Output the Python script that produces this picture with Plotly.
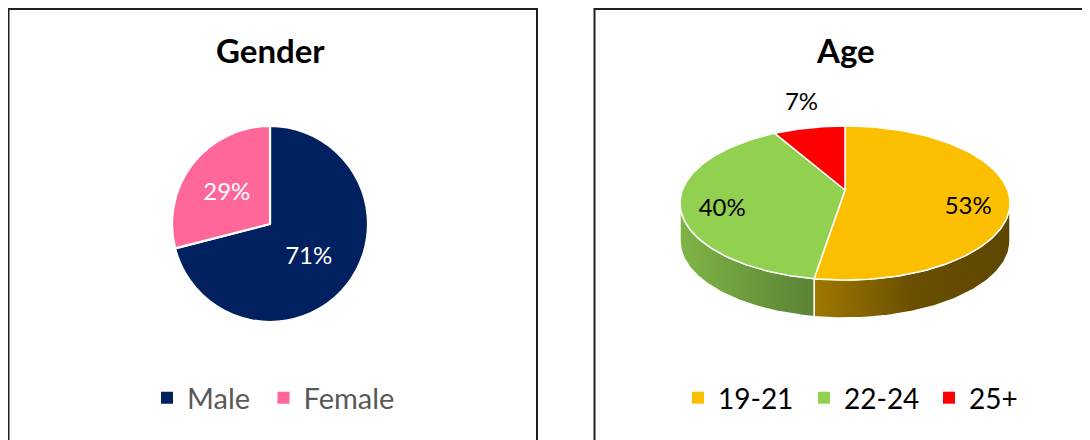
import numpy as np
import plotly.graph_objects as go

# ---------------- data ----------------
gender_title = "Gender"
gender_labels = ["Male", "Female"]
gender_values = [71, 29]
gender_colors = ["#002060", "#FF6699"]

age_title = "Age"
age_labels = ["19-21", "22-24", "25+"]
age_values = [53, 40, 7]
age_colors = ["#FBBF00", "#92D050", "#FF0000"]
age_side_scales = [
    [[0, "#A07800"], [0.5, "#6A4F00"], [1, "#5E4600"]],
    [[0, "#80B446"], [1, "#5A8334"]],
    [[0, "#B00000"], [1, "#800000"]],
]

# ---------------- layout constants (pixels, page coordinates) ----------------
W, H = 1090, 440
OFF = 8                      # page body margin
FONT = "Lato"
CX, CY, RX, RY = 845, 203, 165, 77   # 3D pie top ellipse
APEX_DY = -13
DEPTH = 38
LEGEND_Y = 398
gender_legend_x = [167, 283.5]       # symbol centres
age_legend_x = [698, 824, 949]

fig = go.Figure()

# ----- left: flat pie -----
fig.add_trace(go.Pie(
    labels=gender_labels, values=gender_values, sort=False, direction="clockwise",
    rotation=0,
    marker=dict(colors=gender_colors, line=dict(color="white", width=2.2)),
    texttemplate="%{percent:.0%}", textposition="inside",
    insidetextorientation="horizontal",
    textfont=dict(family=FONT, size=24, color="white"),
    domain=dict(x=[(172 - OFF) / W, (368 - OFF) / W],
                y=[(H + OFF - 322) / H, (H + OFF - 126) / H]),
    showlegend=False, hoverinfo="label+percent",
))

# ----- right: pseudo-3D pie built from the values -----
total = float(sum(age_values))
fracs = [v / total for v in age_values]
bounds = np.concatenate([[0], np.cumsum(fracs)]) * 360.0


def pt(theta_deg, dy=0.0):
    t = np.radians(theta_deg)
    return CX + RX * np.sin(t), CY - RY * np.cos(t) + dy


# sides (front half only: 90..270 degrees clockwise from top)
for i in range(len(age_values)):
    a, b = max(bounds[i], 90.0), min(bounds[i + 1], 270.0)
    if b <= a:
        continue
    th = np.linspace(a, b, 80)
    xt, yt = pt(th)
    xb, yb = pt(th[::-1], DEPTH)
    xs = np.concatenate([xt, xb, xt[:1]])
    ys = np.concatenate([yt, yb, yt[:1]])
    fig.add_trace(go.Scatter(
        x=xs, y=ys, mode="lines", fill="toself",
        fillgradient=dict(type="horizontal", colorscale=age_side_scales[i]),
        line=dict(color="white", width=1.5),
        showlegend=False, hoverinfo="skip",
    ))

# top slices
for i in range(len(age_values)):
    th = np.linspace(bounds[i], bounds[i + 1], 120)
    xa, ya = pt(th)
    xs = np.concatenate([[CX], xa, [CX]])
    ys = np.concatenate([[CY + APEX_DY], ya, [CY + APEX_DY]])
    fig.add_trace(go.Scatter(
        x=xs, y=ys, mode="lines", fill="toself", fillcolor=age_colors[i],
        line=dict(color="white", width=1.5),
        showlegend=False, hoverinfo="skip",
    ))

# labels
lx, ly, lt = [], [], []
for i, f in enumerate(fracs):
    mid = (bounds[i] + bounds[i + 1]) / 2
    k = 0.75 if f >= 0.1 else 1.32
    t = np.radians(mid)
    lx.append(CX + k * RX * np.sin(t) + (4 if f < 0.1 else 0))
    ly.append(CY - k * RY * np.cos(t))
    lt.append(f"{round(f * 100)}%")
fig.add_trace(go.Scatter(
    x=lx, y=ly, mode="text", text=lt,
    textfont=dict(family=FONT, size=24, color="black"),
    showlegend=False, hoverinfo="skip",
))

# legend entries (one legend per entry for exact spacing)
legend_layouts = {}
n = 0
entries = [(lab, col, gx, "#595959", 29) for lab, col, gx in zip(gender_labels, gender_colors, gender_legend_x)] + \
          [(lab, col, gx, "black", 28) for lab, col, gx in zip(age_labels, age_colors, age_legend_x)]
for lab, col, sx, fcol, fsize in entries:
    n += 1
    key = "legend" if n == 1 else f"legend{n}"
    fig.add_trace(go.Scatter(
        x=[None], y=[None], mode="markers", name=lab,
        marker=dict(symbol="square", size=12, color=col),
        legend=key,
    ))
    legend_layouts[key] = dict(
        orientation="h", x=(sx - 20 - OFF) / W, xanchor="left",
        y=1 - (LEGEND_Y - OFF) / H, yanchor="middle",
        font=dict(family=FONT, size=fsize, color=fcol), bgcolor="rgba(0,0,0,0)",
    )

# titles
annotations = [
    dict(x=270, y=50, xref="x", yref="y", text=f"<b>{gender_title}</b>", showarrow=False,
         font=dict(family=FONT, size=33, color="black"), xanchor="center", yanchor="middle"),
    dict(x=845, y=50, xref="x", yref="y", text=f"<b>{age_title}</b>", showarrow=False,
         font=dict(family=FONT, size=33, color="black"), xanchor="center", yanchor="middle"),
]

shapes = [
    dict(type="rect", xref="x", yref="y", x0=8.5, x1=537, y0=9, y1=480,
         line=dict(color="#202020", width=2), fillcolor="rgba(0,0,0,0)", layer="below"),
    dict(type="rect", xref="x", yref="y", x0=594.5, x1=1130, y0=9, y1=480,
         line=dict(color="#202020", width=2), fillcolor="rgba(0,0,0,0)", layer="below"),
]

fig.update_layout(
    width=W, height=H, margin=dict(l=0, r=0, t=0, b=0),
    paper_bgcolor="white", plot_bgcolor="white",
    xaxis=dict(range=[OFF, OFF + W], visible=False, domain=[0, 1], fixedrange=True),
    yaxis=dict(range=[OFF + H, OFF], visible=False, domain=[0, 1], fixedrange=True),
    showlegend=True,
    annotations=annotations, shapes=shapes,
    **legend_layouts,
)

fig.write_html("out.html")
